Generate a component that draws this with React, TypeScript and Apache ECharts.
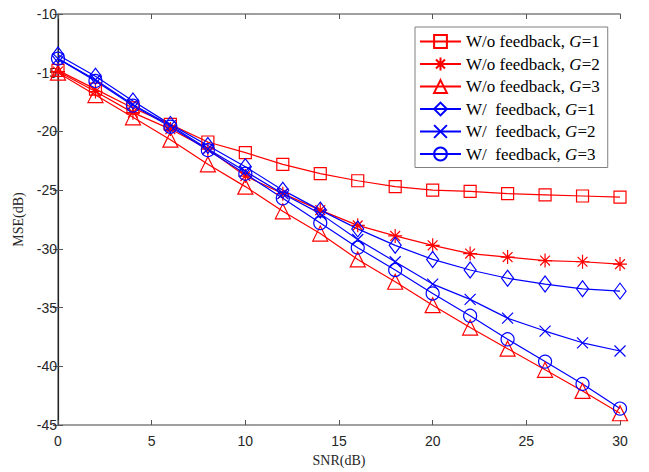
import React, { useEffect, useRef } from "react";
import * as echarts from "echarts";

const snr = [0, 2, 4, 6, 8, 10, 12, 14, 16, 18, 20, 22, 24, 26, 28, 30];

const woG1 = [-14.8, -16.4, -18.0, -19.4, -20.9, -21.8, -22.8, -23.6, -24.2, -24.7, -25.0, -25.1, -25.3, -25.4, -25.5, -25.6];
const woG2 = [-14.9, -16.6, -18.4, -19.8, -21.5, -23.8, -25.3, -26.7, -28.0, -28.9, -29.7, -30.4, -30.7, -31.0, -31.1, -31.3];
const woG3 = [-15.0, -16.9, -18.8, -20.7, -22.8, -24.7, -26.8, -28.7, -30.9, -32.8, -34.8, -36.7, -38.5, -40.3, -42.1, -44.0];
const wG1 = [-13.5, -15.3, -17.4, -19.4, -21.2, -23.0, -25.0, -26.7, -28.3, -29.7, -30.9, -31.8, -32.5, -33.0, -33.4, -33.6];
const wG2 = [-13.8, -15.6, -17.7, -19.5, -21.5, -23.4, -25.3, -27.0, -29.2, -31.1, -33.0, -34.3, -35.9, -37.0, -38.0, -38.7];
const wG3 = [-13.8, -15.7, -17.8, -19.6, -21.6, -23.6, -25.7, -27.8, -29.9, -31.8, -33.8, -35.7, -37.7, -39.6, -41.5, -43.6];

const seriesNames = [
  "W/o feedback, G=1",
  "W/o feedback, G=2",
  "W/o feedback, G=3",
  "W/\u00a0\u00a0feedback, G=1",
  "W/\u00a0\u00a0feedback, G=2",
  "W/\u00a0\u00a0feedback, G=3",
];

const STAR = "path://M0,-10L0,10M-10,0L10,0M-7,-7L7,7M-7,7L7,-7";
const CROSS = "path://M-10,-10L10,10M-10,10L10,-10";

export default function App() {
  const ref = useRef<HTMLDivElement>(null);
  useEffect(() => {
    if (!ref.current) return;
    const chart = echarts.init(ref.current, undefined, { renderer: "svg" });
    const RED = "#ff0000";
    const BLUE = "#0000ff";
    const mk = (name: string, data: number[], color: string, symbol: string, size: any) => ({
      name,
      type: "line",
      xAxisIndex: 0,
      yAxisIndex: 0,
      data: snr.map((x, i) => [x, data[i]]),
      symbol,
      symbolSize: size,
      showSymbol: true,
      lineStyle: { color, width: 1.2 },
      itemStyle: { color: "transparent", borderColor: color, borderWidth: 1.2 },
      emphasis: { disabled: true },
    });
    const tickLabel = { color: "#262626", fontFamily: "Liberation Sans", fontSize: 14 };
    chart.setOption({
      animation: false,
      grid: { left: 58, right: 29, top: 14, bottom: 45, containLabel: false },
      legend: {
        orient: "vertical",
        left: 415,
        top: 27,
        padding: [6, 8, 5, 4],
        itemWidth: 41,
        itemHeight: 16,
        itemGap: 5.5,
        backgroundColor: "#fff",
        borderColor: "#808080",
        borderWidth: 1,
        data: seriesNames,
        formatter: (n: string) => n.replace("G=", "{i|G}="),
        textStyle: {
          fontFamily: "Liberation Serif",
          fontSize: 17,
          lineHeight: 16,
          color: "#000",
          rich: {
            i: { fontStyle: "italic", fontFamily: "Liberation Serif", fontSize: 17, lineHeight: 16, color: "#000" },
          },
        },
      },
      xAxis: [
        {
          type: "value",
          min: 0,
          max: 30,
          interval: 5,
          position: "bottom",
          name: "SNR(dB)",
          nameLocation: "middle",
          nameGap: 28,
          nameTextStyle: { fontFamily: "Liberation Serif", fontSize: 14, color: "#262626" },
          axisLine: { show: true, lineStyle: { color: "#808080", width: 1.5 } },
          axisTick: { show: true, inside: true, length: 5, lineStyle: { color: "#555" } },
          axisLabel: { ...tickLabel, margin: 9 },
          splitLine: { show: false },
        },
        {
          type: "value",
          min: 0,
          max: 30,
          interval: 5,
          position: "top",
          axisLine: { show: true, lineStyle: { color: "#808080", width: 1.5 } },
          axisTick: { show: true, inside: true, length: 5, lineStyle: { color: "#555" } },
          axisLabel: { show: false },
          splitLine: { show: false },
        },
      ],
      yAxis: [
        {
          type: "value",
          min: -45,
          max: -10,
          interval: 5,
          position: "left",
          name: "MSE(dB)",
          nameLocation: "middle",
          nameGap: 26,
          nameTextStyle: { fontFamily: "Liberation Serif", fontSize: 14, color: "#262626" },
          axisLine: { show: true, lineStyle: { color: "#808080", width: 1.5 } },
          axisTick: { show: true, inside: true, length: 5, lineStyle: { color: "#555" } },
          axisLabel: { ...tickLabel, margin: 1 },
          splitLine: { show: false },
        },
        {
          type: "value",
          min: -45,
          max: -10,
          interval: 5,
          position: "right",
          axisLine: { show: true, lineStyle: { color: "#222", width: 1.2 } },
          axisTick: { show: true, inside: true, length: 5, lineStyle: { color: "#555" } },
          axisLabel: { show: false },
          splitLine: { show: false },
        },
      ],
      series: [
        mk(seriesNames[0], woG1, RED, "rect", 12),
        mk(seriesNames[1], woG2, RED, STAR, 14),
        mk(seriesNames[2], woG3, RED, "triangle", 15),
        mk(seriesNames[3], wG1, BLUE, "diamond", [12, 16]),
        mk(seriesNames[4], wG2, BLUE, CROSS, 11),
        mk(seriesNames[5], wG3, BLUE, "circle", 13),
      ],
    });
    return () => chart.dispose();
  }, []);
  return (
    <div
      ref={ref}
      style={{ position: "fixed", left: 0, top: 0, width: 649, height: 472, background: "#fff" }}
    />
  );
}
